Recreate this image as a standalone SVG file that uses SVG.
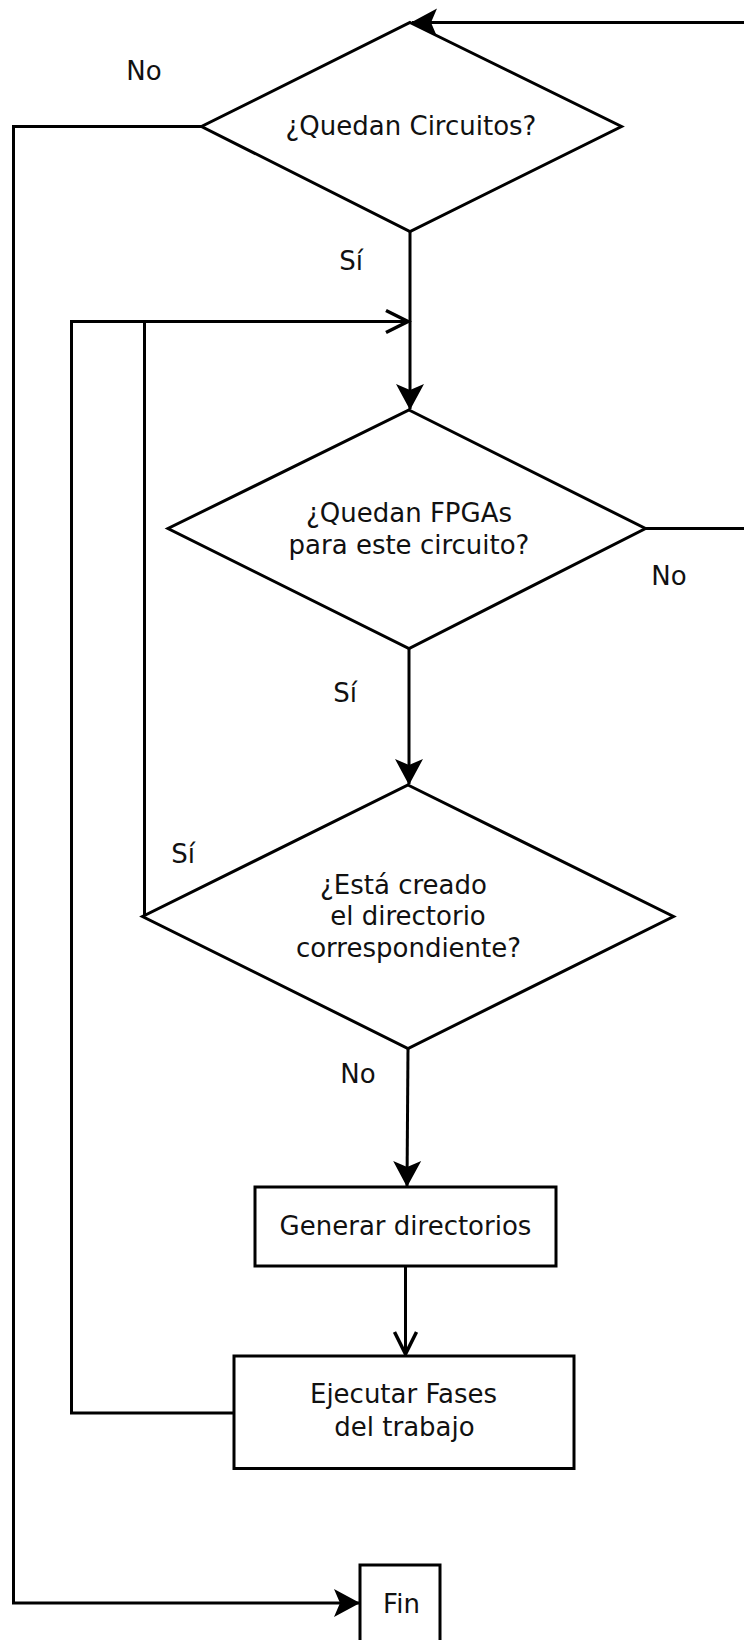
<svg xmlns="http://www.w3.org/2000/svg" width="744" height="1640" viewBox="0 0 744 1640">
  <style>
    .shape { fill: #ffffff; stroke: #000000; stroke-width: 3; stroke-linejoin: miter; }
    .wire { fill: none; stroke: #000000; stroke-width: 3; stroke-linejoin: miter; }
    .lbl { font-family: "DejaVu Sans", "Liberation Sans", sans-serif; font-size: 26px; fill: #111111; text-anchor: middle; }
  </style>
  <defs>
    <marker id="solid" markerUnits="userSpaceOnUse" orient="auto" overflow="visible" refX="0" refY="0" markerWidth="30" markerHeight="30">
      <path d="M1,0 L-25,-14 L-19,0 L-25,14 Z" fill="#000000"/>
    </marker>
    <marker id="open" markerUnits="userSpaceOnUse" orient="auto" overflow="visible" refX="0" refY="0" markerWidth="30" markerHeight="30">
      <path d="M-23,-11 L-1,0 L-23,11" fill="none" stroke="#000000" stroke-width="3.5"/>
    </marker>
  </defs>

  <!-- connectors -->
  <g id="connectors">
    <!-- FPGAs exhausted: back up to the circuit question -->
    <path class="wire" d="M645,528.5 H760 V22.5 H412" marker-end="url(#solid)"/>
    <!-- no circuits left: down the left edge to Fin -->
    <path class="wire" d="M202,126.5 H13.5 V1603 H359" marker-end="url(#solid)"/>
    <!-- yes: circuit question to FPGA question -->
    <path class="wire" d="M410,231.5 V409" marker-end="url(#solid)"/>
    <!-- loop back from the phase execution -->
    <path class="wire" d="M234,1413 H71.5 V321.5 H409" marker-end="url(#open)"/>
    <!-- directory already exists: rejoin the loop -->
    <path class="wire" d="M143,916.5 H144.5 V321.5"/>
    <!-- yes: FPGA question to directory question -->
    <path class="wire" d="M409,648 V784" marker-end="url(#solid)"/>
    <!-- no: directory question to directory generation -->
    <path class="wire" d="M408,1048.5 L407,1186" marker-end="url(#solid)"/>
    <!-- directory generation to phase execution -->
    <path class="wire" d="M405.5,1266 V1355" marker-end="url(#open)"/>

    <text class="lbl" x="144" y="80">No</text>
    <text class="lbl" x="351" y="270">Sí</text>
    <text class="lbl" x="669" y="585">No</text>
    <text class="lbl" x="345" y="701.5">Sí</text>
    <text class="lbl" x="183" y="862.5">Sí</text>
    <text class="lbl" x="358" y="1083">No</text>
  </g>

  <!-- decision: circuits remaining -->
  <g id="q-circuitos">
    <polygon class="shape" points="410,22.5 621.5,126.5 410,231.5 201.5,126.5"/>
    <text class="lbl" x="411" y="135">¿Quedan Circuitos?</text>
  </g>

  <!-- decision: FPGAs remaining for this circuit -->
  <g id="q-fpgas">
    <polygon class="shape" points="409,410 645.5,528.5 409,648.5 168,528.5"/>
    <text class="lbl" x="409" y="521.5">¿Quedan FPGAs</text>
    <text class="lbl" x="409" y="553.5">para este circuito?</text>
  </g>

  <!-- decision: directory already created -->
  <g id="q-directorio">
    <polygon class="shape" points="408,785 673.5,916.5 408,1048.5 142.5,916.5"/>
    <text class="lbl" x="403.5" y="893.5">¿Está creado</text>
    <text class="lbl" x="408" y="925">el directorio</text>
    <text class="lbl" x="408.5" y="957">correspondiente?</text>
  </g>

  <!-- process: generate directories -->
  <g id="generar">
    <rect class="shape" x="255" y="1187" width="301" height="79"/>
    <text class="lbl" x="405.5" y="1235">Generar directorios</text>
  </g>

  <!-- process: run job phases -->
  <g id="ejecutar">
    <rect class="shape" x="234" y="1356" width="340" height="112.5"/>
    <text class="lbl" x="403.5" y="1403">Ejecutar Fases</text>
    <text class="lbl" x="404.5" y="1436">del trabajo</text>
  </g>

  <!-- terminal: end -->
  <g id="fin">
    <rect class="shape" x="360" y="1565" width="80" height="100"/>
    <text class="lbl" x="401.5" y="1612.5">Fin</text>
  </g>
</svg>
